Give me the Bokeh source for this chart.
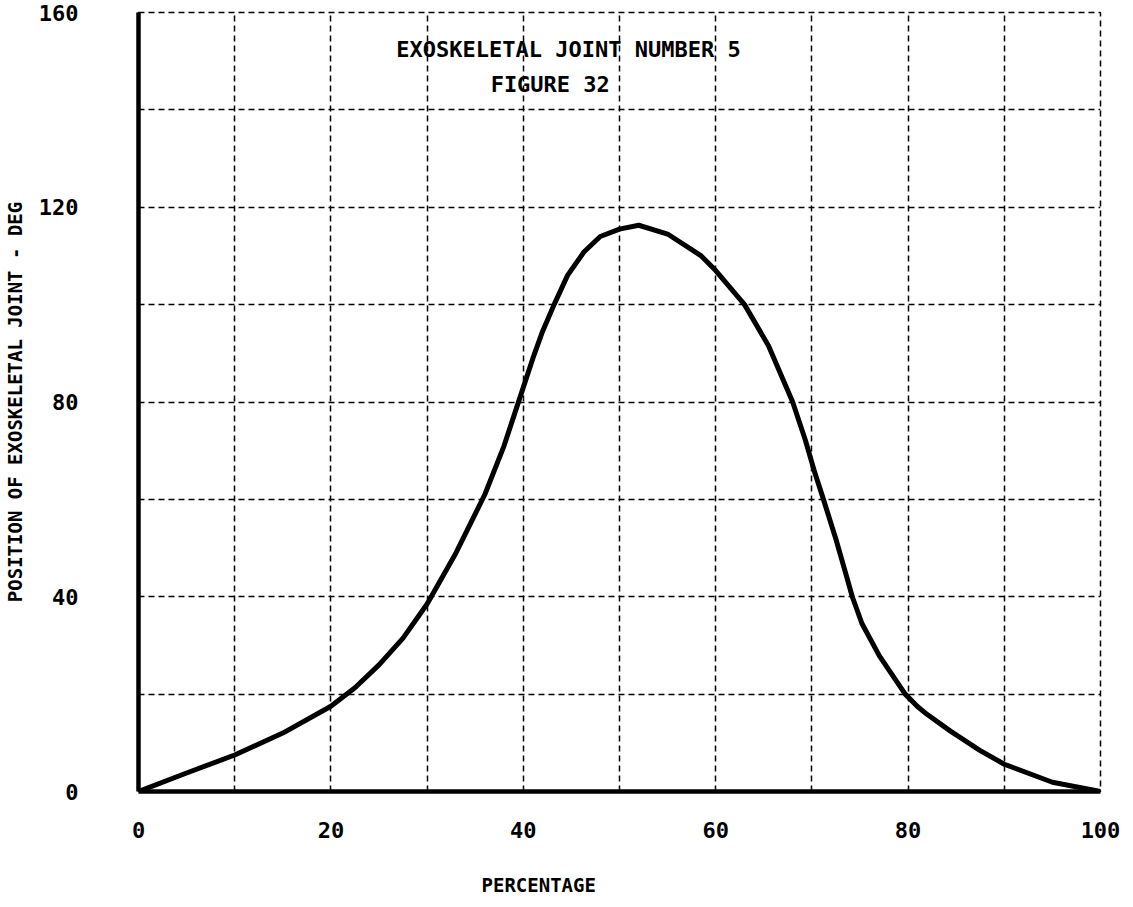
from bokeh.plotting import figure
from bokeh.models import FixedTicker, Range1d, Label, Title
from bokeh.embed import file_html
from bokeh.resources import INLINE

# Curve (percentage of cycle vs joint position, deg)
pct = [0, 5, 10, 15, 20, 22.5, 25, 27.5, 30, 33, 36, 38, 40, 41, 42, 43.2, 44.6,
       46.3, 48, 50, 52, 55, 58.5, 60, 63, 65.5, 68, 69.3, 70.3, 71.2, 72.5,
       73.5, 74.2, 75.2, 77, 79.7, 81, 82, 84.4, 87.5, 90, 95, 100]
deg = [0, 3.8, 7.5, 12, 17.5, 21.3, 26, 31.5, 38.5, 49, 61, 71, 83, 89, 94.5,
       100, 106, 110.8, 114, 115.5, 116.3, 114.5, 110, 107, 100, 91.5, 80, 72.3,
       65.5, 60, 51.8, 44.9, 40, 34.5, 27.9, 20, 17.4, 15.8, 12.4, 8.4, 5.6,
       1.9, 0]

x_ticks = [0, 20, 40, 60, 80, 100]
y_ticks = [0, 40, 80, 120, 160]
x_grid = [0, 10, 20, 30, 40, 50, 60, 70, 80, 90, 100]
y_grid = [0, 20, 40, 60, 80, 100, 120, 140, 160]
title_lines = ["EXOSKELETAL JOINT NUMBER 5", "FIGURE 32"]
x_title = "PERCENTAGE"
y_title = "POSITION OF EXOSKELETAL JOINT - DEG"

FONT = "DejaVu Sans Mono"

p = figure(frame_width=962, frame_height=779,
           x_range=Range1d(0, 100), y_range=Range1d(0, 160),
           output_backend="svg", toolbar_location=None,
           min_border_left=128, min_border_right=25,
           min_border_top=12, min_border_bottom=60)

p.background_fill_color = "white"
p.border_fill_color = "white"
p.outline_line_color = "black"
p.outline_line_dash = "6 4"
p.outline_line_width = 1.5

for g, t in ((p.xgrid, x_grid), (p.ygrid, y_grid)):
    g.ticker = FixedTicker(ticks=t)
    g.grid_line_color = "black"
    g.grid_line_dash = "6 4"
    g.grid_line_width = 1.5
    g.grid_line_alpha = 1.0

p.xaxis.ticker = FixedTicker(ticks=x_ticks)
p.yaxis.ticker = FixedTicker(ticks=y_ticks)
for ax in (p.xaxis, p.yaxis):
    ax.axis_line_color = "black"
    ax.axis_line_width = 4.5
    ax.major_tick_line_color = None
    ax.minor_tick_line_color = None
    ax.major_label_text_font = FONT
    ax.major_label_text_font_style = "bold"
    ax.major_label_text_font_size = "22px"
    ax.major_label_text_color = "black"

p.xaxis.major_label_standoff = 24
p.yaxis.major_label_standoff = 54

p.yaxis.axis_label = y_title
p.yaxis.axis_label_text_font = FONT
p.yaxis.axis_label_text_font_style = "bold"
p.yaxis.axis_label_text_font_size = "19px"
p.yaxis.axis_label_text_color = "black"
p.yaxis.axis_label_standoff = 10

p.line(pct, deg, line_color="black", line_width=5, line_join="round", line_cap="round")

p.add_layout(Label(x=44.7, y=152.4, text=title_lines[0], text_align="center",
                   text_baseline="middle", text_font=FONT, text_font_style="bold",
                   text_font_size="22px", text_color="black"))
p.add_layout(Label(x=42.8, y=145.2, text=title_lines[1], text_align="center",
                   text_baseline="middle", text_font=FONT, text_font_style="bold",
                   text_font_size="22px", text_color="black"))

p.add_layout(Title(text=x_title, align="left", offset=343, standoff=62,
                   text_font=FONT, text_font_style="bold",
                   text_font_size="19px", text_color="black"), "below")

open("out.html", "w").write(file_html(p, INLINE))
